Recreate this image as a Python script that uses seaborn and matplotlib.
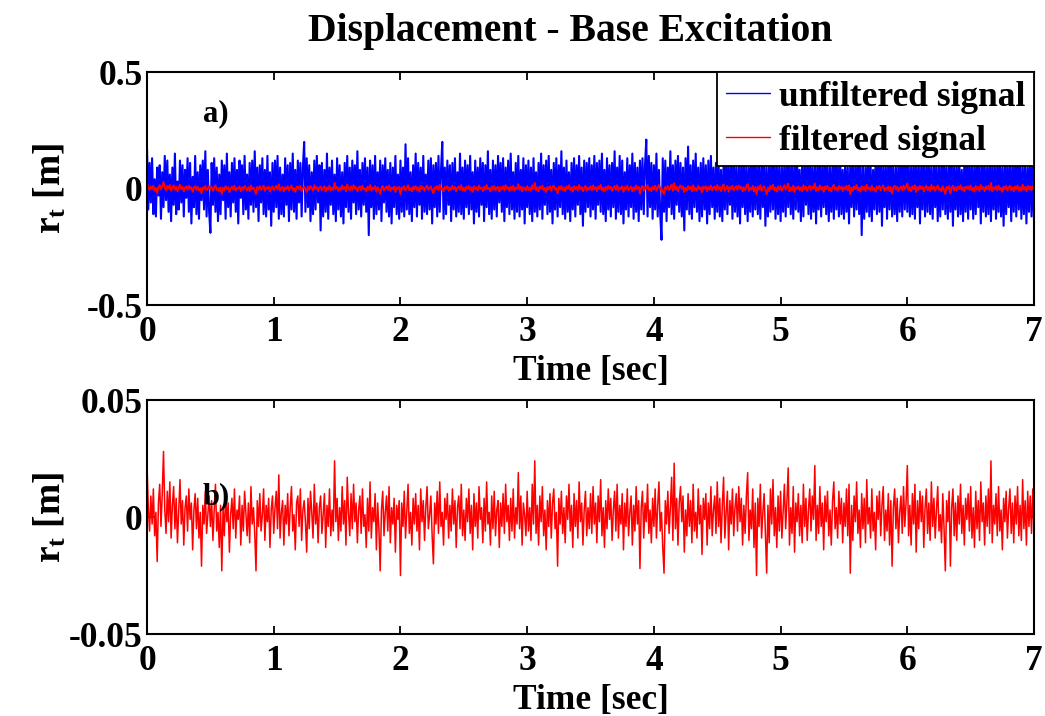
import numpy as np
import pandas as pd
import matplotlib
matplotlib.use("Agg")
import matplotlib.pyplot as plt
import seaborn as sns

# Sampling: one value every 0.01 s from 0 to 7 s
dt = 0.01

# Unfiltered base displacement, in cm (one row = 0.5 s)
unfiltered_cm = [
    17, -9, 11, -6, 13, -11, 4, -12, 9, -3, 10, -13, 7, -8, 14, -5, 12, -10, 6, -14,
    9, -7, 15, -11, 3, -9, 12, -6, 10, -12, 8, -4, 13, -10, 11, -15, 5, -8, 14, -11,
    7, -13, 10, -5, 12, -9, 16, -12, 8, -10,
    -19, 11, -7, 13, -10, 9, -14, 6, -11, 12, -5, 10, -13, 15, -8, 7, -12, 11, -6, 13,
    -10, 8, -15, 12, -4, 10, -11, 14, -9, 6, -13, 11, -7, 12, -10, 16, -8, 9, -14, 10,
    -6, 13, -11, 8, -12, 14, -9, 7, -16, 11,
    -10, 12, -8, 14, -13, 9, -11, 6, -12, 13, -7, 10, -14, 11, -9, 15, -10, 8, -13, 12,
    -6, 11, -12, 9, 20, -10, 13, -8, 10, -14, 7, -11, 12, -9, 14, -6, 10, -18, 11, -12,
    8, -10, 15, -13, 9, -7, 12, -11, 6, -14,
    13, -9, 10, -12, 7, -15, 11, -8, 14, -10, 9, -13, 12, -6, 10, -11, 16, -9, 8, -12,
    11, -7, 13, -10, 9, -20, 12, -8, 10, -13, 14, -11, 7, -9, 12, -14, 10, -6, 13, -10,
    8, -12, 11, -15, 9, -8, 14, -11, 6, -13,
    12, -10, 9, -12, 19, -9, 13, -11, 7, -14, 10, -8, 15, -12, 11, -7, 9, -13, 14, -10,
    6, -11, 12, -9, 13, -15, 10, -8, 11, -12, 14, -10, 8, 20, -13, 9, -11, 12, -7, 10,
    -14, 11, -9, 13, -12, 7, -10, 15, -11, 9,
    -13, 12, -8, 10, -11, 14, -9, 7, -15, 12, -10, 9, -12, 13, -7, 11, -14, 10, -8, 16,
    -11, 8, -13, 12, -9, 10, -12, 14, -6, 11, -10, 13, -14, 9, -8, 12, -11, 15, -9, 7,
    -13, 11, -10, 14, -12, 8, -9, 13, -15, 10,
    -8, 12, -11, 9, -14, 13, -10, 7, -12, 11, -9, 15, -13, 10, -7, 12, -11, 14, -10, 8,
    -15, 11, -9, 13, -12, 10, -8, 16, -11, 9, -13, 12, -10, 7, -14, 11, -9, 13, -12, 10,
    -7, 14, -11, 9, -16, 12, -10, 11, -8, 13,
    -12, 10, -9, 14, -13, 11, -7, 12, -10, 15, -11, 8, -14, 13, -9, 10, -12, 11, -8, 16,
    -13, 9, -10, 14, -11, 12, -15, 7, -9, 13, -12, 10, -8, 15, -13, 11, -10, 9, -14, 12,
    -9, 13, -11, 10, 21, -12, 14, -8, 11, -13,
    10, -9, 15, -12, 8, -11, -22, 13, -10, 12, -14, 9, -8, 16, -11, 10, -13, 12, -7, 14,
    -10, 11, -12, 9, -18, 13, -9, 18, -11, 10, -13, 12, -8, 15, -10, 9, -14, 11, -12, 13,
    -9, 10, -15, 12, -11, 14, -8, 9, -13, 11,
    -10, 13, -12, 8, -14, 11, -9, 15, -11, 10, -7, 12, -13, 14, -10, 9, -12, 11, -15, 13,
    -8, 10, -11, 12, -14, 9, -10, 16, -12, 11, -9, 13, -11, 10, -13, 12, -8, 14, -16, 9,
    -12, 11, -10, 13, -9, 15, -13, 10, -11, 12,
    -14, 9, -10, 13, -12, 11, -8, 14, -11, 10, -13, 12, -9, 15, -10, 8, -14, 11, -12, 13,
    -7, 10, -11, 16, -13, 9, -10, 12, -15, 11, -9, 14, -12, 10, -8, 13, -11, 12, -14, 9,
    -10, 11, -13, 15, -9, 10, -12, 14, -11, 8,
    -13, 12, -10, 9, -15, 11, -8, 13, -12, 10, -9, 14, -11, 12, -20, 10, -13, 9, -10, 15,
    -12, 11, -14, 8, -9, 13, -11, 12, -10, 14, -16, 10, -8, 11, -13, 12, -9, 15, -12, 10,
    -11, 9, -14, 13, -10, 11, -12, 16, -9, 12,
    -10, 13, -12, 9, -11, 14, -13, 10, -8, 12, -15, 11, -9, 13, -12, 10, -10, 15, -11, 9,
    -13, 12, -8, 11, -14, 10, -12, 13, -9, 16, -11, 9, -13, 12, -10, 14, -16, 11, -9, 10,
    -12, 13, -11, 8, -14, 12, -10, 15, -13, 11,
    -9, 12, -13, 10, -11, 14, -8, 11, -15, 12, -10, 13, -12, 9, -11, 15, -14, 10, -9, 12,
    -13, 11, -10, 14, -12, 9, -16, 13, -11, 10, -8, 12, -14, 11, -10, 13, -12, 15, -9, 11,
    -13, 10, -11, 12, -15, 9, -10, 14, -12, 11,
    -14,
]

# Filtered base displacement, in mm (one row = 0.5 s)
filtered_mm = [
    22, 4, -6, 9, -3, 12, -8, 2, -19, 6, 14, -4, 10, 28, 3, -7, 11, -2, 15, -9,
    5, 13, -5, 8, -11, 2, 16, -3, 7, -12, 4, 9, -6, 12, -1, 6, -14, 3, 10, -5,
    8, -9, 2, -21, 5, -3, 11, -7, 1, 9,
    -4, 7, -10, 3, 14, -6, 2, -13, 5, -23, 4, -8, 10, -2, 6, -15, 1, 8, -5, 12,
    -9, 3, -1, 9, -12, 5, -6, 11, 2, -8, 6, -11, 13, -3, 4, -7, -23, 7, -4, 10,
    -6, 1, 12, -10, 5, -2, 8, -13, 3, 9,
    -7, 4, 11, -5, 18, -9, 2, 7, -12, 5, -3, 10, -8, 4, 13, -6, 1, -14, 6, 9,
    -4, 12, -10, 3, 7, -2, -15, 8, -5, 11, 2, -9, 14, -3, 6, -11, 4, 9, -7, 1,
    10, -13, 5, -4, 12, -8, 3, -6, 24, -2,
    8, -10, 4, -6, 13, -3, 7, -12, 17, 2, -8, 10, -5, 14, -2, 6, -11, 3, 9, -7,
    12, -4, 1, -13, 8, -6, 15, -9, 4, -2, 10, -14, 6, -5, -23, 3, 11, -8, 2, 9,
    -6, 13, -11, 4, -3, 8, -15, 5, -1, 7,
    -25, 6, -4, 11, -9, 3, 14, -7, 2, -12, 8, -3, 10, -6, 5, -14, 12, -2, 7, -10,
    4, 13, -5, 1, 9, -8, -20, 6, -3, 11, -7, 15, -4, 2, -12, 8, -1, 10, -9, 5,
    -6, 12, -3, 7, -13, 4, 9, -5, 14, -8,
    3, -10, 8, -2, 12, -7, 5, -14, 10, -4, 6, -9, 13, -1, 4, -11, 8, -6, 15, -3,
    2, -12, 9, -5, 11, -8, 3, 7, -13, 6, -4, 10, -7, 14, -2, 5, -10, 8, -6, 12,
    -9, 4, -3, 19, -5, 9, -12, 6, 1, -8,
    11, -6, 4, -10, 14, -3, 24, -7, 5, -12, 9, -2, 13, -8, 3, -14, 7, -4, 10, -9,
    6, 12, -5, 2, -21, 8, -3, 11, -7, 4, -11, 9, -1, 14, -6, 5, -13, 10, -4, 7,
    -9, 15, -2, 6, -12, 3, 11, -8, 4, -5,
    10, -7, 13, -3, 6, -11, 9, -2, 16, -8, 4, -13, 7, -5, 12, -1, 8, -10, 3, 11,
    -6, 14, -9, 5, -3, 10, -14, 6, -4, 12, -8, 2, 9, -12, 5, -6, 13, -3, 7, -22,
    4, 11, -9, 6, -2, 14, -7, 3, -11, 8,
    -4, 12, -9, 5, 15, -6, 2, -13, -24, 7, -3, 11, -7, 4, 17, -10, 23, -5, 8, -12,
    6, 13, -2, 9, -15, 3, -8, 10, -4, 7, -11, 14, -6, 2, -9, 12, -3, 5, -16, 8,
    -1, 10, -12, 6, -5, 13, -8, 3, 9, -7,
    15, -4, 8, -11, 5, 17, -9, 2, 11, -14, 7, -3, 12, -8, 4, 10, -6, 13, -2, 8,
    -12, 5, -7, 9, 19, -10, 3, -5, 12, -13, 6, -25, 8, -4, 14, -9, 2, 10, -7, -24,
    5, -11, 12, -3, 16, -8, 4, -13, 9, -6,
    11, -9, 3, 14, -5, 7, 21, -12, 4, -7, 13, -15, 6, -2, 10, -8, 5, -11, 14, -4,
    8, -10, 3, 12, -6, 9, -1, 22, -10, 5, -7, 13, -4, 6, -14, 9, -2, 11, -8, 3,
    -12, 7, 15, -5, 4, -9, 11, -3, 8, -11,
    6, -4, 12, -8, 14, -24, 5, -10, 9, -2, 15, -7, 3, -13, 10, -5, 8, -11, 16, -3,
    4, -9, 12, -6, 2, -14, 9, -1, 11, -8, 5, 13, -10, 3, -6, 10, -12, 7, -21, 4,
    12, -5, 8, -11, 2, 9, -7, 13, -4, 6,
    22, -8, 5, -12, 10, -3, 14, -15, 7, -5, 11, -2, 9, -13, 4, 12, -7, 6, -10, 15,
    -4, 8, -9, 3, 13, -6, 1, -11, 10, -5, -23, 7, -2, 11, -21, 4, 12, -8, 6, -10,
    9, -3, 14, -7, 5, -12, 8, -1, 10, -6,
    13, -9, 4, -13, 11, -5, 7, -10, 15, -2, 6, -12, 9, -4, 12, -7, 24, -11, 5, -3,
    10, -8, 13, -6, 3, -14, 8, -2, 11, -9, 4, 12, -7, 6, -11, 9, -3, 13, -8, 5,
    -10, 16, -5, 7, -12, 11, -4, 9, -7, 12,
    -6,
]

x_ticks = [0, 1, 2, 3, 4, 5, 6, 7]
top_yticks = [-0.5, 0, 0.5]
top_yticklabels = ["-0.5", "0", "0.5"]
bottom_yticks = [-0.05, 0, 0.05]
bottom_yticklabels = ["-0.05", "0", "0.05"]

time = np.arange(len(filtered_mm)) * dt
df = pd.DataFrame({
    "time": time,
    "unfiltered": np.array(unfiltered_cm) / 100.0,
    "filtered": np.array(filtered_mm) / 1000.0,
})

sns.set_theme(style="white")
plt.rcParams["font.family"] = ["Liberation Serif", "DejaVu Serif"]
plt.rcParams["font.weight"] = "bold"
plt.rcParams["mathtext.fontset"] = "custom"
plt.rcParams["mathtext.rm"] = "Liberation Serif:bold"
plt.rcParams["mathtext.bf"] = "Liberation Serif:bold"
plt.rcParams["mathtext.it"] = "Liberation Serif:bold"
for key in ["text.color", "axes.labelcolor", "xtick.color", "ytick.color", "axes.edgecolor"]:
    plt.rcParams[key] = "black"

fig = plt.figure(figsize=(10.45, 7.16), dpi=100)
fig.patch.set_facecolor("white")
ax1 = fig.add_axes([0.1407, 0.574, 0.8488, 0.3254])
ax2 = fig.add_axes([0.1407, 0.1145, 0.8488, 0.3268])

BLUE = "#0000ff"
RED = "#ff0000"

sns.lineplot(data=df, x="time", y="unfiltered", ax=ax1, color=BLUE, lw=1.5,
             estimator=None, sort=False, label="unfiltered signal")
sns.lineplot(data=df, x="time", y="filtered", ax=ax1, color=RED, lw=1.4,
             estimator=None, sort=False, label="filtered signal")
sns.lineplot(data=df, x="time", y="filtered", ax=ax2, color=RED, lw=1.1,
             estimator=None, sort=False, legend=False)

tick_fs = 25.5
label_fs = 25.5

for ax, yt, ytl, ylim in [
    (ax1, top_yticks, top_yticklabels, (-0.5, 0.5)),
    (ax2, bottom_yticks, bottom_yticklabels, (-0.05, 0.05)),
]:
    ax.set_xlim(0, 7)
    ax.set_ylim(*ylim)
    ax.set_xticks(x_ticks)
    ax.set_xticklabels([str(v) for v in x_ticks], fontsize=tick_fs, fontweight="bold")
    ax.set_yticks(yt)
    ax.set_yticklabels(ytl, fontsize=tick_fs, fontweight="bold")
    ax.tick_params(direction="in", length=6, width=1.3, color="black",
                   top=True, right=True, bottom=True, left=True)
    ax.tick_params(axis="x", pad=8)
    ax.tick_params(axis="y", pad=3)
    for s in ax.spines.values():
        s.set_visible(True)
        s.set_color("black")
        s.set_linewidth(1.5)
    ax.set_xlabel("Time [sec]", fontsize=label_fs, fontweight="bold")
    ax.set_ylabel(r"$\mathbf{r_t}$ [m]", fontsize=27, fontweight="bold")
    ax.xaxis.set_label_coords(0.5, -0.215)
    ax.yaxis.set_label_coords(-0.088, 0.5)
    ax.set_facecolor("white")

ax1.text(0.44, 0.32, "a)", fontsize=22, fontweight="bold", ha="left", va="center")
ax2.text(0.44, 0.0088, "b)", fontsize=22, fontweight="bold", ha="left", va="center")

leg = ax1.legend(loc="upper right", fontsize=25.5, frameon=True, fancybox=False,
                 edgecolor="black", framealpha=1, borderpad=0.25, handlelength=1.25,
                 handletextpad=0.25, labelspacing=0.3, borderaxespad=0.0)
leg.get_frame().set_linewidth(1.3)
for t in leg.get_texts():
    t.set_fontweight("bold")
for h in leg.get_lines():
    h.set_linewidth(1.0)

fig.text(0.546, 0.956, "Displacement - Base Excitation", ha="center", va="center",
         fontsize=28.5, fontweight="bold")

fig.savefig("out.png", dpi=100, facecolor="white")
